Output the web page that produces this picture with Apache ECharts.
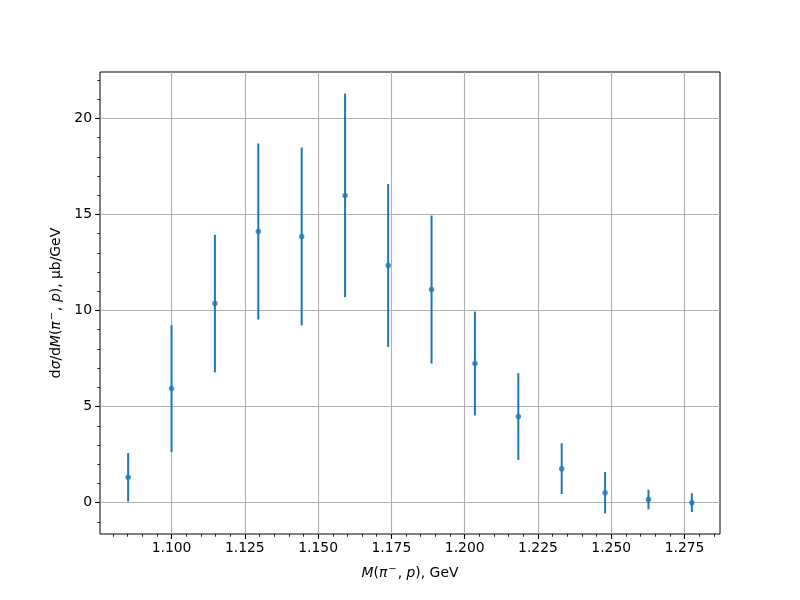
<!DOCTYPE html>
<html>
<head>
<meta charset="utf-8">
<script src="https://cdn.jsdelivr.net/npm/echarts@6/dist/echarts.min.js"></script>
<style>html,body{margin:0;padding:0;background:#fff}#c{width:800px;height:600px}</style>
</head>
<body>
<div id="c"></div>
<script>
const massValues = [1.0852, 1.1000, 1.1148, 1.1296, 1.1444, 1.1592, 1.1739, 1.1887, 1.2035, 1.2183, 1.2331, 1.2479, 1.2627, 1.2775];
const crossSection = [1.32, 5.94, 10.36, 14.11, 13.85, 15.99, 12.34, 11.09, 7.24, 4.48, 1.77, 0.52, 0.16, 0.00];
const crossSectionErr = [1.26, 3.30, 3.58, 4.58, 4.63, 5.30, 4.24, 3.85, 2.70, 2.26, 1.32, 1.08, 0.51, 0.49];
const xTickLabels = [1.100, 1.125, 1.150, 1.175, 1.200, 1.225, 1.250, 1.275];
const xMinorTicks = [1.080, 1.085, 1.090, 1.095, 1.105, 1.110, 1.115, 1.120, 1.130, 1.135, 1.140, 1.145, 1.155, 1.160, 1.165, 1.170, 1.180, 1.185, 1.190, 1.195, 1.205, 1.210, 1.215, 1.220, 1.230, 1.235, 1.240, 1.245, 1.255, 1.260, 1.265, 1.270, 1.280, 1.285];
const yTickLabels = [0, 5, 10, 15, 20];
const yMinorTicks = [-1, 1, 2, 3, 4, 6, 7, 8, 9, 11, 12, 13, 14, 16, 17, 18, 19, 21, 22];

const xMin = 1.0756, xMax = 1.2871, yMin = -1.63, yMax = 22.41;
const FONT = 'DejaVu Sans';
const FS = 13.9;
const blue = '#1f77b4';

const richStyles = {
  i: { fontFamily: FONT, fontStyle: 'italic', fontSize: FS, color: '#000' },
  sup: { fontFamily: FONT, fontSize: 10, color: '#000', verticalAlign: 'top', padding: [0, 1, 8, 1] },
  n: { fontFamily: FONT, fontSize: FS, color: '#000' }
};

const chart = echarts.init(document.getElementById('c'), null, { renderer: 'canvas' });

const points = massValues.map((x, i) => [x, crossSection[i], crossSectionErr[i]]);

const option = {
  animation: false,
  backgroundColor: '#fff',
  grid: { left: 100, right: 80, top: 72, bottom: 66, show: true, borderColor: '#000', borderWidth: 1, backgroundColor: 'transparent' },
  xAxis: [
    {
      type: 'value', min: xMin, max: xMax, position: 'bottom',
      axisLine: { show: false, onZero: false },
      axisTick: { show: true, customValues: xTickLabels, length: 4.9, inside: false, lineStyle: { color: '#000', width: 1.1 } },
      axisLabel: { customValues: xTickLabels, fontFamily: FONT, fontSize: FS, color: '#000', margin: 7, formatter: v => v.toFixed(3) },
      splitLine: { show: true, lineStyle: { color: '#b0b0b0', width: 1.1 } },
      name: '{i|M}({i|π}{sup|−}, {i|p}), GeV',
      nameLocation: 'middle', nameGap: 30,
      nameTextStyle: { fontFamily: FONT, fontSize: FS, color: '#000', rich: richStyles }
    },
    {
      type: 'value', min: xMin, max: xMax, position: 'bottom', gridIndex: 0,
      axisLine: { show: false, onZero: false },
      axisTick: { show: true, customValues: xMinorTicks, length: 2.8, lineStyle: { color: '#000', width: 0.8 } },
      axisLabel: { show: false },
      splitLine: { show: false }
    }
  ],
  yAxis: [
    {
      type: 'value', min: yMin, max: yMax, position: 'left',
      axisLine: { show: false, onZero: false },
      axisTick: { show: true, customValues: yTickLabels, length: 4.9, lineStyle: { color: '#000', width: 1.1 } },
      axisLabel: { customValues: yTickLabels, fontFamily: FONT, fontSize: FS, color: '#000', margin: 8 },
      splitLine: { show: true, lineStyle: { color: '#b0b0b0', width: 1.1 } },
      name: 'd{i|σ}/d{i|M}({i|π}{sup|−}, {i|p}), μb/GeV',
      nameLocation: 'middle', nameGap: 33, nameRotate: 90,
      nameTextStyle: { fontFamily: FONT, fontSize: FS, color: '#000', rich: richStyles }
    },
    {
      type: 'value', min: yMin, max: yMax, position: 'left', gridIndex: 0,
      axisLine: { show: false, onZero: false },
      axisTick: { show: true, customValues: yMinorTicks, length: 2.8, lineStyle: { color: '#000', width: 0.8 } },
      axisLabel: { show: false },
      splitLine: { show: false }
    }
  ],
  series: [
    {
      type: 'custom',
      xAxisIndex: 0, yAxisIndex: 0,
      data: points,
      z: 3,
      renderItem: function (params, api) {
        const x = api.value(0), y = api.value(1), e = api.value(2);
        const p1 = api.coord([x, y - e]);
        const p2 = api.coord([x, y + e]);
        return {
          type: 'line',
          shape: { x1: p1[0], y1: p1[1], x2: p2[0], y2: p2[1] },
          style: { stroke: blue, lineWidth: 2 }
        };
      }
    },
    {
      type: 'scatter',
      xAxisIndex: 0, yAxisIndex: 0,
      data: points.map(p => [p[0], p[1]]),
      symbol: 'circle', symbolSize: 5.5,
      itemStyle: { color: blue },
      z: 4
    }
  ]
};
chart.setOption(option);
</script>
</body>
</html>
